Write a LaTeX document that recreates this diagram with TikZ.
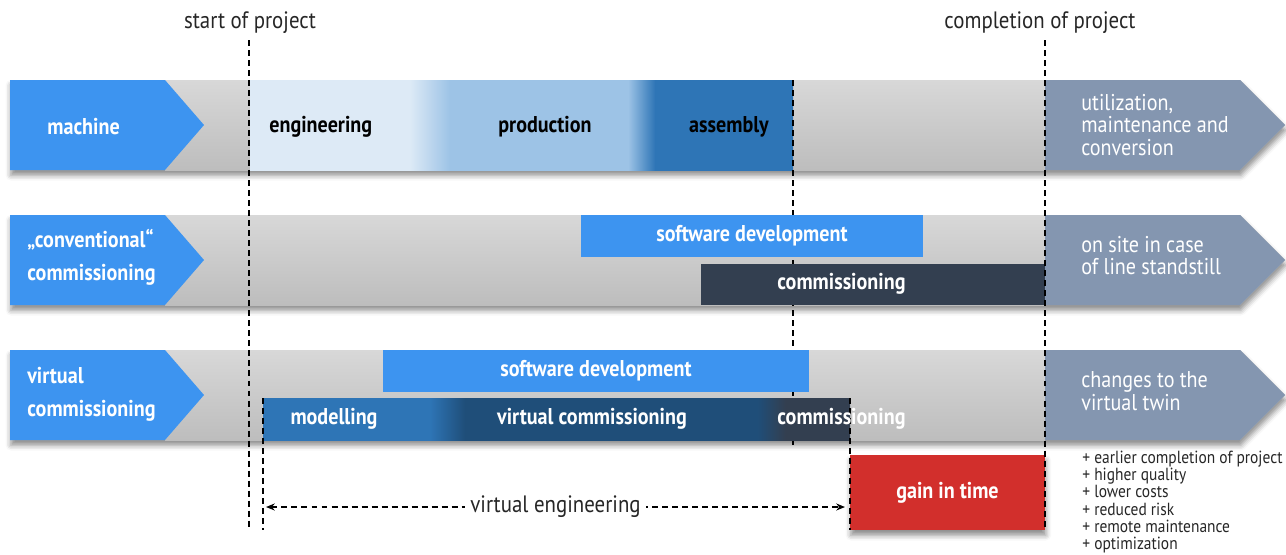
\documentclass[tikz,border=0pt]{standalone}
\usepackage{fontspec}
\setmainfont{PT Sans}[FakeStretch=0.88]
\usetikzlibrary{arrows.meta,shadows.blur}

\definecolor{labelblue}{HTML}{3D94F0}
\definecolor{slate}{HTML}{8496B0}
\definecolor{bandtop}{HTML}{D8D8D8}
\definecolor{bandbot}{HTML}{BDBDBD}
\definecolor{engl}{HTML}{DDEAF6}
\definecolor{engm}{HTML}{9DC3E6}
\definecolor{engd}{HTML}{2E75B6}
\definecolor{navy}{HTML}{1F4E79}
\definecolor{darkbar}{HTML}{333F50}
\definecolor{gainred}{HTML}{D22F2C}

\pgfdeclarehorizontalshading{machineshade}{100bp}{color(0bp)=(engl); color(39.7bp)=(engl); color(43.4bp)=(engm); color(59.8bp)=(engm); color(62.3bp)=(engd); color(100bp)=(engd)}
\pgfdeclarehorizontalshading{virtualshade}{100bp}{color(0bp)=(engd); color(39.2bp)=(engd); color(42.2bp)=(navy); color(67.1bp)=(navy); color(69.5bp)=(darkbar); color(100bp)=(darkbar)}

\tikzset{
  lbl/.style={font=\bfseries\fontsize{13}{15}\selectfont, text=white},
  dlbl/.style={font=\bfseries\fontsize{13}{15}\selectfont, text=black},
  rowlbl/.style={font=\bfseries\fontsize{13}{18.7}\selectfont, text=white, align=left, anchor=west, inner xsep=0pt},
  side/.style={font=\fontsize{13}{13}\selectfont, text=white, align=left, anchor=west, inner xsep=0pt},
  note/.style={font=\fontsize{13.5}{15}\selectfont, text=black!85},
  guide/.style={black, line width=0.7pt, dash pattern=on 3.4pt off 2.3pt},
  band/.style={blur shadow={shadow xshift=0.5pt, shadow yshift=-3pt, shadow blur radius=3pt, shadow opacity=45}},
}

\begin{document}
\begin{tikzpicture}[x=0.02cm,y=-0.02cm]
\useasboundingbox (0,0) rectangle (1286,555);

\foreach \y in {80,215,350}{
  \fill[band, bandbot] (10,\y) -- (1240,\y) -- (1285,{\y+45}) -- (1240,{\y+90}) -- (10,{\y+90}) -- cycle;
  \shade[top color=bandtop, bottom color=bandbot] (165,\y) rectangle (1045,{\y+90});
  \fill[labelblue] (10,\y) -- (165,\y) -- (204,{\y+45}) -- (165,{\y+90}) -- (10,{\y+90}) -- cycle;
  \fill[slate] (1045,\y) -- (1240,\y) -- (1285,{\y+45}) -- (1240,{\y+90}) -- (1045,{\y+90}) -- cycle;
}

\shade[shading=machineshade] (250,80) rectangle (793,170);
\draw[guide] (793,80) -- (793,445);

\fill[labelblue] (581,215) rectangle (923,257) node[pos=.5, lbl] (sw1) {software development};
\fill[darkbar] (701,264) rectangle (1045,305);
\fill[labelblue] (383,350) rectangle (809,392) node[pos=.5, lbl] (sw2) {software development};
\shade[shading=virtualshade] (263,398) rectangle (850,440);
\fill[band, gainred] (850,455) rectangle (1045,530) node[pos=.5, lbl] (gain) {gain in time};

\draw[guide] (249,40) -- (249,530);
\draw[guide] (1045,40) -- (1045,530);
\draw[guide] (263,398) -- (263,530);
\draw[guide] (850,398) -- (850,530);

\node[rowlbl] (machine) at (47,127) {machine};
\node[rowlbl] (conv) at (27,257) {„conventional“\\commissioning};
\node[rowlbl] (virt) at (27,394) {virtual\\commissioning};

\node[dlbl, anchor=west, inner xsep=0pt] (eng) at (269,127) {engineering};
\node[dlbl] (prod) at (545,127) {production};
\node[dlbl] (asm) at (729,127) {assembly};

\node[lbl, anchor=west, inner xsep=0pt] (comm1) at (777,284) {commissioning};
\node[lbl] (model) at (334,419) {modelling};
\node[lbl] (vcomm) at (592,419) {virtual commissioning};
\node[lbl, anchor=west, inner xsep=0pt] (comm2) at (777,419) {commissioning};

\node[side] (use) at (1081,125) {utilization,\\maintenance and\\conversion};
\node[side] (site) at (1081,255.5) {on site in case\\of line standstill};
\node[side] (twin) at (1081,391.5) {changes to the\\virtual twin};

\node[note] (start) at (250,23) {start of project};
\node[note] (end) at (1040,23) {completion of project};

\coordinate (veL) at (266,507);
\coordinate (veR) at (845,507);
\draw[guide, {Stealth[length=5pt,width=4pt]}-{Stealth[length=5pt,width=4pt]}] (veL) -- (veR)
  node[midway, fill=white, inner xsep=3pt, note] (ve) {virtual engineering};

\node[anchor=west, align=left, inner xsep=0pt, font=\fontsize{10}{9.8}\selectfont, text=black!85] (plus) at (1082,502)
  {+ earlier completion of project\\+ higher quality\\+ lower costs\\+ reduced risk\\+ remote maintenance\\+ optimization};
\end{tikzpicture}
\end{document}
